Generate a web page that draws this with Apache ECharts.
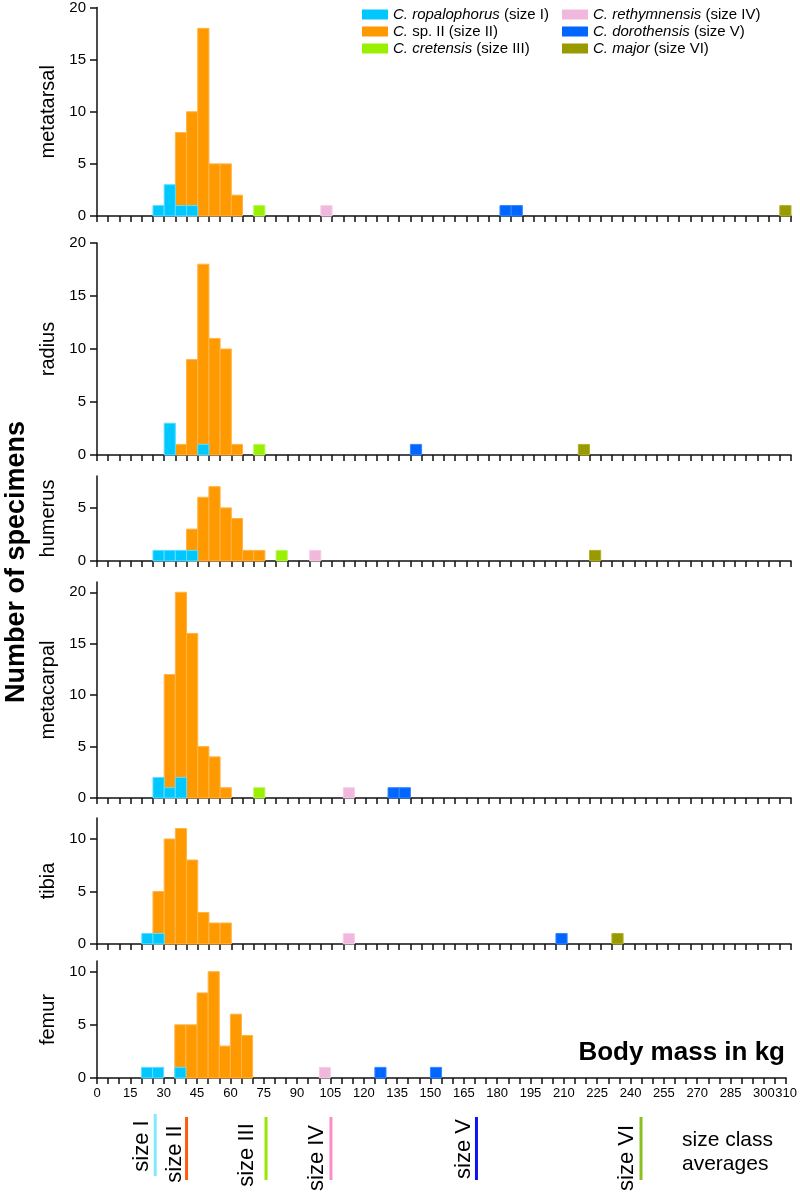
<!DOCTYPE html>
<html><head><meta charset="utf-8">
<script src="https://cdn.jsdelivr.net/npm/echarts@6/dist/echarts.min.js"></script>
<style>html,body{margin:0;padding:0;background:#fff}#c{width:800px;height:1193px}</style>
</head><body><div id="c"></div><script>
// ---------- DATA ----------
const panelNames = ['metatarsal', 'radius', 'humerus', 'metacarpal', 'tibia', 'femur'];
const panelYMax = [20, 20, 8, 21, 12, 11];
const binWidth = 5;
const xTickLabels = [0,15,30,45,60,75,90,105,120,135,150,165,180,195,210,225,240,255,270,285,300,310];
const speciesKeys = ['sp2', 'ropalophorus', 'cretensis', 'rethymnensis', 'dorothensis', 'major'];
const legendOrder = ['ropalophorus', 'sp2', 'cretensis', 'rethymnensis', 'dorothensis', 'major'];
const legendLabels = ['{i|C. ropalophorus} (size I)', '{i|C.} sp. II (size II)', '{i|C. cretensis} (size III)',
                      '{i|C. rethymnensis} (size IV)', '{i|C. dorothensis} (size V)', '{i|C. major} (size VI)'];

// [bin start (kg), count]
const metatarsalSizeI   = [[25,1],[30,3],[35,1],[40,1]];
const metatarsalSizeII  = [[35,8],[40,10],[45,18],[50,5],[55,5],[60,2]];
const metatarsalSizeIII = [[70,1]];
const metatarsalSizeIV  = [[100,1]];
const metatarsalSizeV   = [[180,1],[185,1]];
const metatarsalSizeVI  = [[305,1]];

const radiusSizeI   = [[30,3],[45,1]];
const radiusSizeII  = [[35,1],[40,9],[45,18],[50,11],[55,10],[60,1]];
const radiusSizeIII = [[70,1]];
const radiusSizeIV  = [];
const radiusSizeV   = [[140,1]];
const radiusSizeVI  = [[215,1]];

const humerusSizeI   = [[25,1],[30,1],[35,1],[40,1]];
const humerusSizeII  = [[40,3],[45,6],[50,7],[55,5],[60,4],[65,1],[70,1]];
const humerusSizeIII = [[80,1]];
const humerusSizeIV  = [[95,1]];
const humerusSizeV   = [];
const humerusSizeVI  = [[220,1]];

const metacarpalSizeI   = [[25,2],[30,1],[35,2]];
const metacarpalSizeII  = [[30,12],[35,20],[40,16],[45,5],[50,4],[55,1]];
const metacarpalSizeIII = [[70,1]];
const metacarpalSizeIV  = [[110,1]];
const metacarpalSizeV   = [[130,1],[135,1]];
const metacarpalSizeVI  = [];

const tibiaSizeI   = [[20,1],[25,1]];
const tibiaSizeII  = [[25,5],[30,10],[35,11],[40,8],[45,3],[50,2],[55,2]];
const tibiaSizeIII = [];
const tibiaSizeIV  = [[110,1]];
const tibiaSizeV   = [[205,1]];
const tibiaSizeVI  = [[230,1]];

const femurSizeI   = [[20,1],[25,1],[35,1]];
const femurSizeII  = [[35,5],[40,5],[45,8],[50,10],[55,3],[60,6],[65,4]];
const femurSizeIII = [];
const femurSizeIV  = [[100,1]];
const femurSizeV   = [[125,1],[150,1]];
const femurSizeVI  = [];

const sizeClassLabels = ['size I', 'size II', 'size III', 'size IV', 'size V', 'size VI'];
const sizeClassAverages = [26, 40, 75.5, 104.5, 169.5, 243];

// ---------- STYLE / LAYOUT ----------
const speciesColor = {ropalophorus:'#00c8ff', sp2:'#ff9900', cretensis:'#99f000', rethymnensis:'#f0b8dc', dorothensis:'#0066ff', major:'#999900'};
const speciesBorder = {ropalophorus:'#60dcff', sp2:'#ffb44a', cretensis:'#bbf560', rethymnensis:'#f5cfe6', dorothensis:'#3388ff', major:'#b0b030'};
const avgLineColors = ['#80e8ff', '#ff5a10', '#99e600', '#ff8cc6', '#1010f0', '#88c020'];
const avgLineTop = [1114, 1117, 1117, 1117, 1117, 1117];
const avgLineBottom = [1176, 1180, 1180, 1180, 1180, 1180];
const avgTextY = [1146, 1154, 1155, 1158, 1149, 1158];
const avgTextDx = [-13, -12, -19, -14, -13, -14];
const gridTops = [4, 243, 476, 582, 818, 961];
const gridHeights = [212, 212, 85, 216, 126, 117];
const FONT = 'Liberation Sans, Arial, sans-serif';

const panelData = {
  metatarsal: [metatarsalSizeII, metatarsalSizeI, metatarsalSizeIII, metatarsalSizeIV, metatarsalSizeV, metatarsalSizeVI],
  radius:     [radiusSizeII, radiusSizeI, radiusSizeIII, radiusSizeIV, radiusSizeV, radiusSizeVI],
  humerus:    [humerusSizeII, humerusSizeI, humerusSizeIII, humerusSizeIV, humerusSizeV, humerusSizeVI],
  metacarpal: [metacarpalSizeII, metacarpalSizeI, metacarpalSizeIII, metacarpalSizeIV, metacarpalSizeV, metacarpalSizeVI],
  tibia:      [tibiaSizeII, tibiaSizeI, tibiaSizeIII, tibiaSizeIV, tibiaSizeV, tibiaSizeVI],
  femur:      [femurSizeII, femurSizeI, femurSizeIII, femurSizeIV, femurSizeV, femurSizeVI]
};

const chart = echarts.init(document.getElementById('c'), null, {renderer: 'canvas'});
const grids = [], xAxes = [], yAxes = [], series = [];

panelNames.forEach((p, i) => {
  grids.push({left: 97, width: 694, top: gridTops[i], height: gridHeights[i]});
  const last = i === panelNames.length - 1;
  xAxes.push({
    type: 'value', gridIndex: i, min: 0, max: 310, interval: 5,
    axisLine: {show: true, onZero: false, lineStyle: {color: '#111', width: 1.5}},
    axisTick: {show: true, length: 6, lineStyle: {color: '#111', width: 1.5}},
    axisLabel: {show: last, customValues: xTickLabels, color: '#000', fontSize: 13, fontFamily: FONT, margin: 9},
    splitLine: {show: false}
  });
  const yt = [0,5,10,15,20].filter(v => v <= panelYMax[i]);
  yAxes.push({
    type: 'value', gridIndex: i, min: 0, max: panelYMax[i], interval: 5,
    name: p, nameLocation: 'middle', nameGap: 39,
    nameTextStyle: {fontSize: 20, color: '#000', fontFamily: FONT},
    axisLine: {show: true, lineStyle: {color: '#111', width: 1.5}},
    axisTick: {show: true, length: 7, customValues: yt, lineStyle: {color: '#111', width: 1.5}},
    axisLabel: {customValues: yt, color: '#000', fontSize: 15, fontFamily: FONT, margin: 11},
    splitLine: {show: false}
  });
  speciesKeys.forEach((k, si) => {
    series.push({
      type: 'custom', name: k, xAxisIndex: i, yAxisIndex: i,
      itemStyle: {color: speciesColor[k]},
      data: panelData[p][si],
      clip: false,
      renderItem: function (params, api) {
        const x0 = api.value(0), c = api.value(1);
        const a = api.coord([x0, 0]);
        const b = api.coord([x0 + binWidth, c]);
        return {type: 'rect', shape: {x: a[0], y: b[1], width: b[0] - a[0], height: a[1] - b[1]},
          style: {fill: speciesColor[k], stroke: speciesBorder[k], lineWidth: 1}};
      }
    });
  });
});

// size class averages panel (below the axis)
grids.push({left: 97, width: 694, top: 1100, height: 90});
xAxes.push({type: 'value', gridIndex: 6, min: 0, max: 310, show: false});
yAxes.push({type: 'value', gridIndex: 6, min: 0, max: 1, show: false});
series.push({
  type: 'custom', xAxisIndex: 6, yAxisIndex: 6, silent: true, clip: false,
  data: sizeClassAverages.map((v, i) => [v, i]),
  renderItem: function (params, api) {
    const v = api.value(0), idx = api.value(1);
    const x = api.coord([v, 0])[0];
    return {type: 'group', children: [
      {type: 'line', shape: {x1: x, y1: avgLineTop[idx], x2: x, y2: avgLineBottom[idx]},
       style: {stroke: avgLineColors[idx], lineWidth: 3}},
      {type: 'text', x: x + avgTextDx[idx], y: avgTextY[idx], rotation: Math.PI / 2,
       style: {text: sizeClassLabels[idx], fontSize: 22, fontFamily: FONT, fill: '#000', align: 'center', verticalAlign: 'middle'}}
    ]};
  }
});

const legendFmt = name => legendLabels[legendOrder.indexOf(name)];
const legendText = {fontSize: 15, color: '#000', fontFamily: FONT, rich: {i: {fontStyle: 'italic', fontSize: 15, fontFamily: FONT}}};

chart.setOption({
  animation: false,
  backgroundColor: '#fff',
  grid: grids, xAxis: xAxes, yAxis: yAxes, series: series,
  legend: [
    {data: legendOrder.slice(0, 3), orient: 'vertical', left: 357, top: 2, itemWidth: 26, itemHeight: 10, itemGap: 2,
     icon: 'rect', selectedMode: false, formatter: legendFmt, textStyle: legendText},
    {data: legendOrder.slice(3), orient: 'vertical', left: 557, top: 2, itemWidth: 26, itemHeight: 10, itemGap: 2,
     icon: 'rect', selectedMode: false, formatter: legendFmt, textStyle: legendText}
  ],
  graphic: [
    {type: 'text', x: 17, y: 562, rotation: Math.PI / 2,
     style: {text: 'Number of specimens', fontSize: 27, fontWeight: 'bold', fontFamily: FONT, fill: '#000', align: 'center', verticalAlign: 'middle'}},
    {type: 'text', x: 785, y: 1053,
     style: {text: 'Body mass in kg', fontSize: 26, fontWeight: 'bold', fontFamily: FONT, fill: '#000', align: 'right', verticalAlign: 'middle'}},
    {type: 'text', x: 682, y: 1152,
     style: {text: 'size class\naverages', fontSize: 21, lineHeight: 24, fontFamily: FONT, fill: '#000', align: 'left', verticalAlign: 'middle'}}
  ]
});
</script></body></html>
